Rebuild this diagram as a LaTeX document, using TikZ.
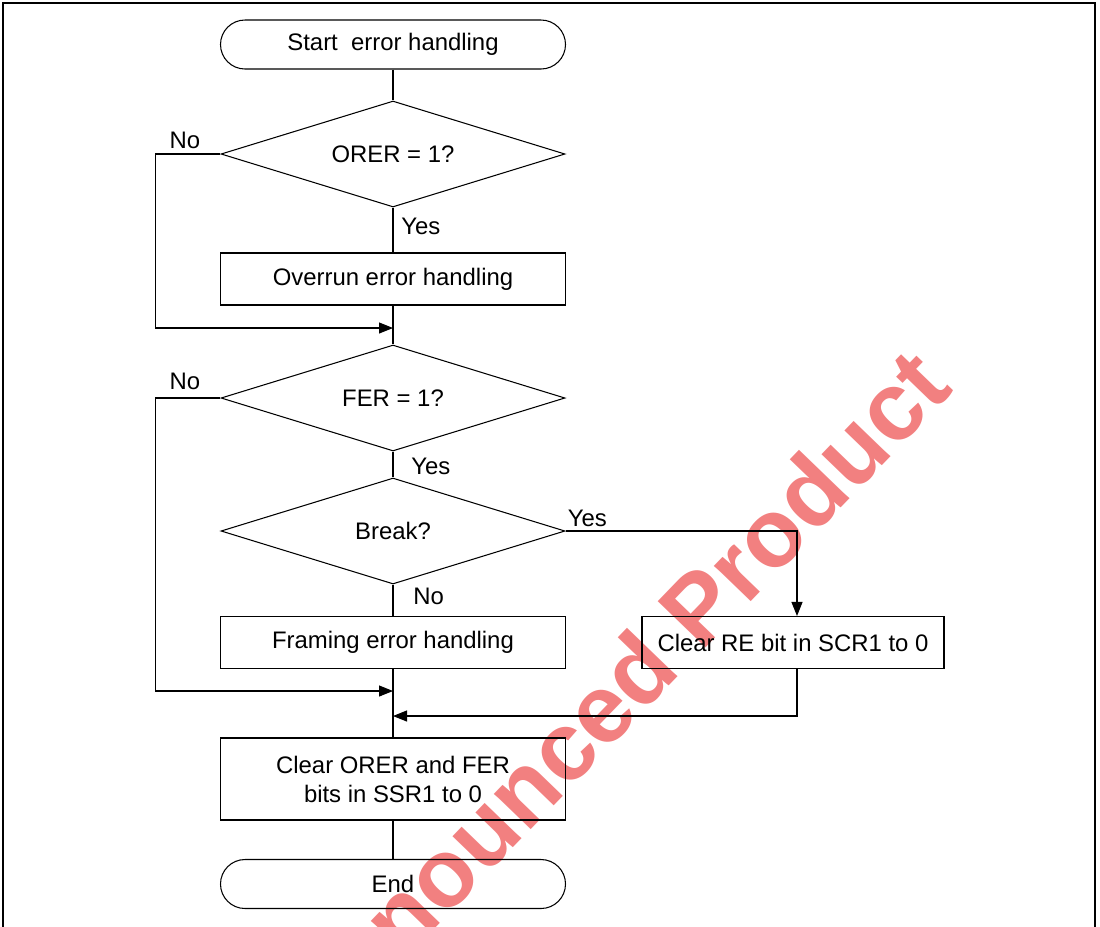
\documentclass[tikz,border=0pt]{standalone}
\usepackage{fontspec}
\setmainfont{Liberation Sans}
\usepackage{tikz}
\usetikzlibrary{arrows.meta, positioning, shapes.geometric}
\definecolor{wmred}{RGB}{242,128,128}
\newcommand{\fsz}{\fontsize{13.6}{16.5}\selectfont}

\begin{document}
\begin{tikzpicture}[
    term/.style={draw,line width=0.6pt,rounded corners=0.49cm,
      minimum width=6.9cm,minimum height=0.98cm,font=\fsz},
    proc/.style={draw,line width=0.6pt,minimum width=6.9cm,
      minimum height=1.04cm,font=\fsz,align=center},
    dec/.style={draw,line width=0.6pt,diamond,aspect=3.25,inner sep=0pt,
      minimum width=6.88cm,minimum height=2.12cm,font=\fsz},
    lbl/.style={inner sep=0pt,font=\fsz},
    line/.style={line width=0.6pt},
    arrow/.style={line,-{Triangle[length=0.28cm,width=0.22cm]}}
  ]
  \clip (0,0) rectangle (22,-18.52);

  % watermark, behind everything
  \node[font=\fontsize{55}{55}\selectfont\bfseries,text=wmred,rotate=46,
    anchor=mid] (wmark) at (12.62,-14.38) {Announced Product};

  % frame
  \draw[line width=0.9pt] (0.06,-19) |- (21.9,-0.06) -- (21.9,-19);

  % main column
  \node[term] (start) at (7.86,-0.89) {Start~ error handling};
  \node[dec] (orer) at (7.86,-3.08) {ORER = 1?};
  \node[proc] (ovr) at (7.86,-5.58) {Overrun error handling};
  \coordinate (m1) at (7.86,-6.56);
  \node[dec] (fer) at (7.86,-7.96) {FER = 1?};
  \node[dec] (brk) at (7.86,-10.62) {Break?};
  \node[proc] (frm) at (7.86,-12.85) {Framing error handling};
  \node[proc,minimum width=6.04cm] (clre) at (15.86,-12.85) {Clear RE bit in SCR1 to 0};
  \coordinate (m2) at (7.86,-13.82);
  \coordinate (m3) at (7.86,-14.32);
  \node[proc,minimum height=1.64cm] (clr) at (7.86,-15.58)
    {Clear ORER and FER\\bits in SSR1 to 0};
  \node[term] (end) at (7.86,-17.68) {End};

  % flow
  \draw[line] (start) -- (orer);
  \draw[line] (orer) -- (ovr);
  \draw[line] (ovr) -- (fer);
  \draw[arrow] (orer.west) -- ++(-1.3,0) |- (m1);
  \draw[line] (fer) -- (brk);
  \draw[line] (brk) -- (frm);
  \draw[arrow] (brk.east) -| ([xshift=0.08cm]clre.north);
  \draw[line] (frm) -- (clr);
  \draw[arrow] (fer.west) -- ++(-1.3,0) |- (m2);
  \draw[arrow] ([xshift=0.08cm]clre.south) |- (m3);
  \draw[line] (clr) -- (end);

  % branch labels
  \node[lbl,above left=0.09cm and 0.4cm of orer.west] (orerNo) {No};
  \node[lbl,below right=0.2cm and 0.16cm of orer.south] (orerYes) {Yes};
  \node[lbl,above left=0.15cm and 0.4cm of fer.west] (ferNo) {No};
  \node[lbl,below right=0.13cm and 0.36cm of fer.south] (ferYes) {Yes};
  \node[lbl,above right=0.08cm and 0.04cm of brk.east] (brkYes) {Yes};
  \node[lbl,below right=0.07cm and 0.4cm of brk.south] (brkNo) {No};
\end{tikzpicture}
\end{document}
